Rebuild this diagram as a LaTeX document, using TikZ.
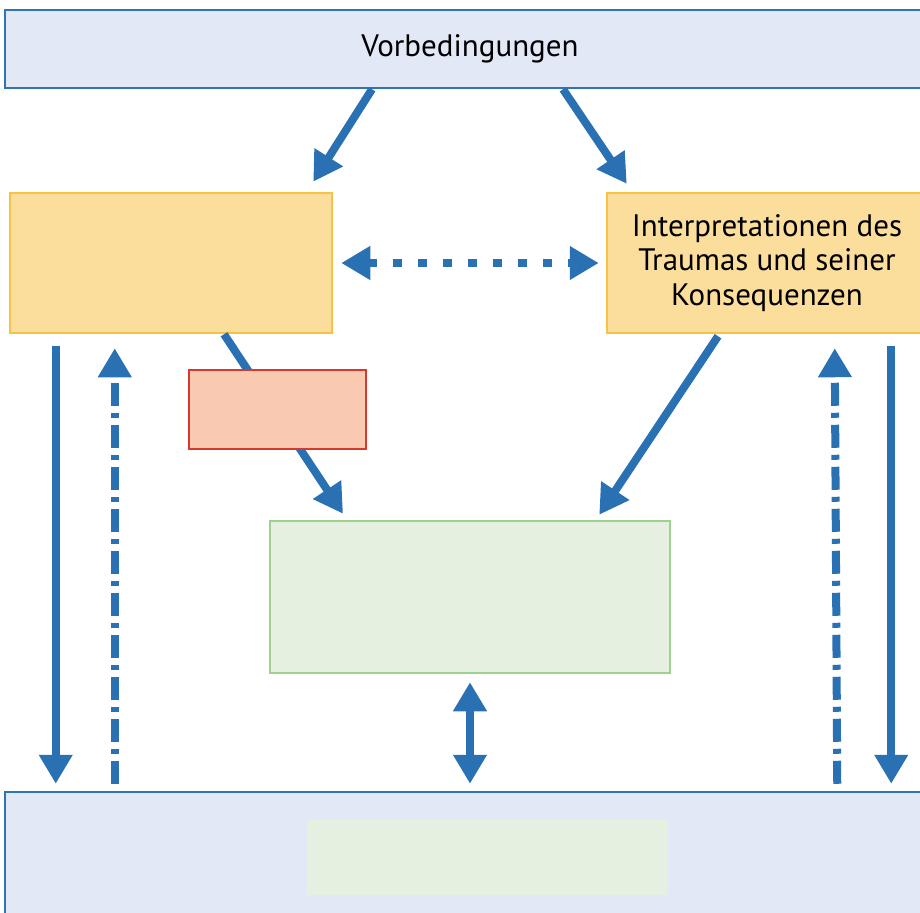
\documentclass[tikz,border=0pt]{standalone}
\usepackage{fontspec}
\setmainfont{PT Sans}
\usetikzlibrary{arrows.meta}
\definecolor{rahmenblau}{HTML}{2E75B6}
\definecolor{pfeilblau}{HTML}{2A71B3}
\definecolor{hellblau}{HTML}{E2E8F6}
\definecolor{orangefill}{HTML}{FCDE9C}
\definecolor{orangerand}{HTML}{F6C343}
\definecolor{rotfill}{HTML}{F9CAB1}
\definecolor{rotrand}{HTML}{D9382E}
\definecolor{gruenfill}{HTML}{E5F0E0}
\definecolor{gruenrand}{HTML}{9DD290}

\begin{document}
\begin{tikzpicture}[x=1pt, y=-1pt,
    box/.style={rectangle, line width=2.5pt, inner sep=0pt,
      font=\fontsize{31}{34.5}\selectfont, align=center},
    bluebox/.style={box, draw=rahmenblau, fill=hellblau},
    orangebox/.style={box, draw=orangerand, fill=orangefill,
      minimum width=320pt, minimum height=140pt},
    spitze/.tip={Triangle[width=32pt,length=29pt]},
    arr/.style={pfeilblau, line width=8pt, -spitze},
    dotarr/.style={pfeilblau, line width=8pt, dash pattern=on 9pt off 16pt,
      spitze-spitze},
    dotdasharr/.style={arr, dash pattern=on 23pt off 7pt on 5pt off 7pt}]

  \useasboundingbox (0,0) rectangle (920,912);

  \node[bluebox, minimum width=930pt, minimum height=78pt] (vor) at (470,49) {Vorbedingungen};
  \node[orangebox, minimum width=322pt] (erl) at (171,263) {};
  \node[orangebox] (interp) at (767,263) {Interpretationen des\\Traumas und seiner\\Konsequenzen};
  \node[box, draw=gruenrand, fill=gruenfill, minimum width=400pt, minimum height=152pt] (gruen) at (470,597) {};
  \node[bluebox, minimum width=930pt, minimum height=138pt] (alltag) at (470,861) {};
  \node[box, fill=gruenfill, draw=none, minimum width=361pt, minimum height=75pt] (innen) at (487.5,857.5) {};

  \draw[arr] ([xshift=-98pt]vor.south) -- ([xshift=-20pt,yshift=10pt]erl.north east);
  \draw[arr] ([xshift=93pt]vor.south) -- ([xshift=21pt,yshift=8pt]interp.north west);
  \draw[dotarr] ([xshift=8pt]erl.east) -- ([xshift=-7pt]interp.west);

  \draw[arr] ([xshift=53pt]erl.south) -- ([xshift=-127pt,yshift=6pt]gruen.north);
  \node[box, draw=rotrand, fill=rotfill, minimum width=177pt, minimum height=79pt] (rot) at (277.5,409.5) {};

  \draw[arr] ([xshift=-49pt,yshift=-2pt]interp.south) -- ([xshift=-72pt,yshift=5pt]gruen.north east);
  \draw[arr, spitze-spitze] ([yshift=-8pt]gruen.south) -- ([yshift=7pt]alltag.north);

  \draw[arr] ([xshift=47pt,yshift=-12pt]erl.south west) -- ([xshift=52pt,yshift=7pt]alltag.north west);
  \draw[dotdasharr] ([xshift=111pt,yshift=7pt]alltag.north west) -- ([xshift=106pt,yshift=-14pt]erl.south west);
  \draw[dotdasharr] ([xshift=-99pt,yshift=7pt]alltag.north east) -- ([xshift=229pt,yshift=-14pt]interp.south west);
  \draw[arr] ([xshift=-37pt,yshift=-12pt]interp.south east) -- ([xshift=-45pt,yshift=7pt]alltag.north east);

\end{tikzpicture}
\end{document}
